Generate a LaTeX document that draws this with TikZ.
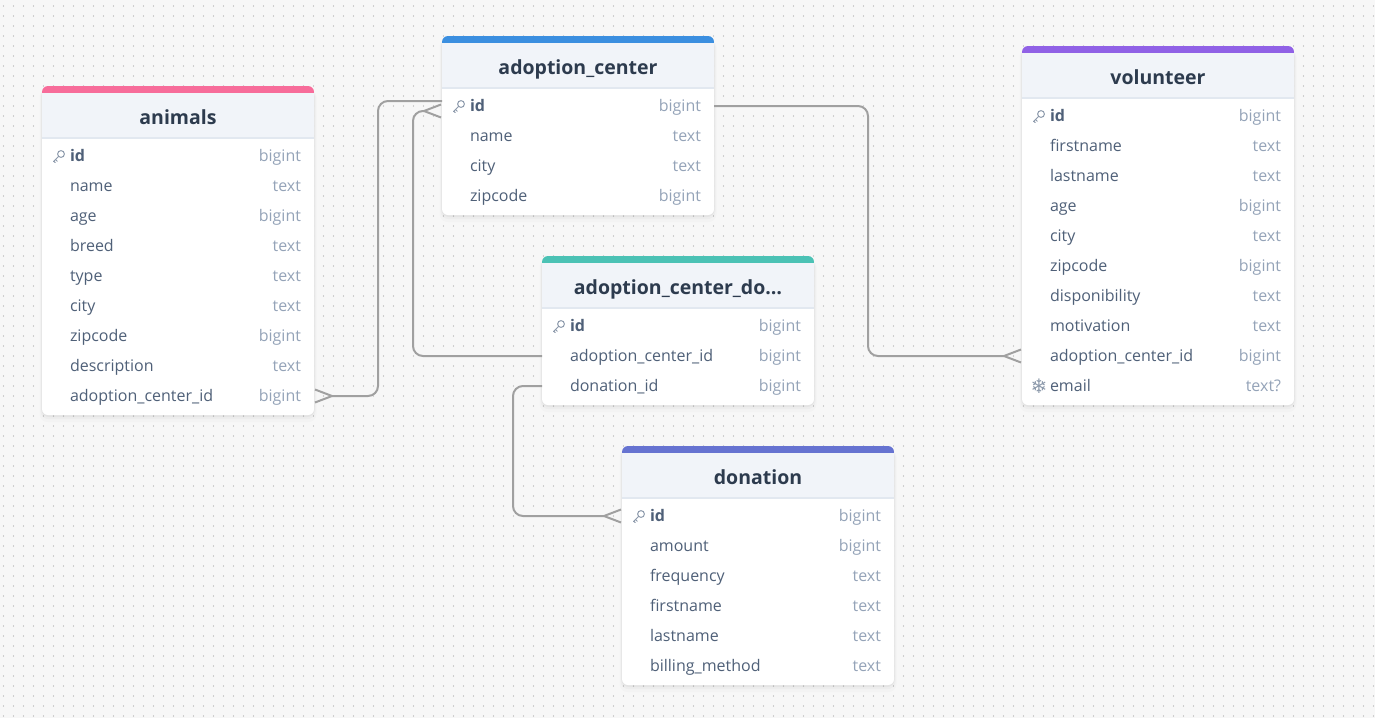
\documentclass[tikz,border=0pt]{standalone}
\usepackage{fontspec}
\setmainfont{Open Sans}
\newfontfamily\flakefont{DejaVu Sans}
\usetikzlibrary{arrows.meta,positioning,patterns.meta}
\definecolor{canvas}{HTML}{F7F7F7}
\definecolor{griddot}{HTML}{A8A8A8}
\definecolor{headfill}{HTML}{F1F4F9}
\definecolor{headline}{HTML}{E2E8F0}
\definecolor{titleink}{HTML}{2D3B4E}
\definecolor{fieldink}{HTML}{4F6078}
\definecolor{typeink}{HTML}{94A3B8}
\definecolor{iconink}{HTML}{8C99AB}
\definecolor{wire}{HTML}{A0A0A0}
\definecolor{pinkbar}{HTML}{F76C9A}
\definecolor{bluebar}{HTML}{3B8FE0}
\definecolor{tealbar}{HTML}{4BC2B5}
\definecolor{indigobar}{HTML}{6673D1}
\definecolor{purplebar}{HTML}{9061E6}
\tikzset{
  rel/.style={draw=wire,line width=2pt,rounded corners=10pt},
  crow/.tip={Straight Barb[reversed,length=17pt,width=13pt,line width=2pt]},
  many/.style={rel,-{crow}},
  cardbox/.style={rounded corners=6pt,fill=white,minimum width=272pt,inner sep=0pt,outer sep=0pt,anchor=north west},
  headbox/.style={minimum width=272pt,minimum height=45pt,inner sep=0pt,outer sep=0pt,text height=22pt,text depth=5pt,
                  font=\fontsize{19.5}{24}\selectfont\bfseries,text=titleink},
  rowbox/.style={text width=272pt,minimum height=30pt,inner sep=0pt,outer sep=0pt,text height=13.5pt,text depth=2.5pt,
                 font=\fontsize{16}{20}\selectfont,text=fieldink},
  keyicon/.pic={
    \draw[iconink,line width=1pt] (2,-2) circle (3.4pt);
    \draw[iconink,line width=1pt,line cap=round] (-.4,.4) -- (-5.5,5.5) (-3.5,3.5) -- (-1.8,5.2) (-5.2,5.2) -- (-3.8,6.6);
  },
  flakeicon/.pic={\node[text=iconink,font=\flakefont\fontsize{20}{20}\selectfont] {❄};},
  noicon/.pic={}
}
% one table: name, x, y, bar colour, title, rows
\newcommand{\dbtable}[6]{
  \begin{scope}[shift={(#2,#3)}]
    \foreach \spread/\alph in {5/.015,3/.025,1.5/.035}
      \fill[black,opacity=\alph,rounded corners=8pt]
        (-\spread/2,3) rectangle ++(272+\spread,#6-3+\spread*1.4);
    \node[cardbox,minimum height=#6] (#1) at (0,0) {};
    \begin{scope}
      \clip[rounded corners=6pt] (0,0) rectangle (272,#6);
      \fill[#4] (0,0) rectangle (272,7);
      \fill[headfill] (0,7) rectangle (272,52);
      \fill[headline] (0,51) rectangle (272,52.5);
    \end{scope}
  \end{scope}
  \node[headbox,below=7pt of #1.north] (#1-head) {#5};
  \coordinate (#1-0) at ([yshift=-3]#1-head.south);
}
\newcommand{\dbrow}[5]{
  \node[rowbox,below=0pt of #1-\the\numexpr#2-1\relax] (#1-#2)
    {\hspace*{28pt}#3\hfill\textcolor{typeink}{#4}\hspace*{13pt}};
  \pic at ([xshift=17pt]#1-#2.west) {#5};
}
\begin{document}
\begin{tikzpicture}[x=1pt,y=-1pt]
  \useasboundingbox (0,0) rectangle (1375,718);
  \fill[canvas] (0,0) rectangle (1375,718);
  \fill[pattern={Dots[distance=10pt,radius=.55pt,xshift=3.5pt,yshift=2pt]},pattern color=griddot]
    (0,0) rectangle (1375,718);

  \dbtable{animals}{42}{86}{pinkbar}{animals}{329}
  \foreach \field/\kind/\icon [count=\i] in {
    \textbf{id}/bigint/keyicon,name/text/noicon,age/bigint/noicon,breed/text/noicon,
    type/text/noicon,city/text/noicon,zipcode/bigint/noicon,description/text/noicon,
    adoption\_center\_id/bigint/noicon}
    {\dbrow{animals}{\i}{\field}{\kind}{\icon}}

  \dbtable{center}{442}{36}{bluebar}{adoption\_center}{179}
  \foreach \field/\kind/\icon [count=\i] in {
    \textbf{id}/bigint/keyicon,name/text/noicon,city/text/noicon,zipcode/bigint/noicon}
    {\dbrow{center}{\i}{\field}{\kind}{\icon}}

  \dbtable{centerdon}{542}{256}{tealbar}{adoption\_center\_do…}{149}
  \foreach \field/\kind/\icon [count=\i] in {
    \textbf{id}/bigint/keyicon,adoption\_center\_id/bigint/noicon,donation\_id/bigint/noicon}
    {\dbrow{centerdon}{\i}{\field}{\kind}{\icon}}

  \dbtable{donation}{622}{446}{indigobar}{donation}{239}
  \foreach \field/\kind/\icon [count=\i] in {
    \textbf{id}/bigint/keyicon,amount/bigint/noicon,frequency/text/noicon,firstname/text/noicon,
    lastname/text/noicon,billing\_method/text/noicon}
    {\dbrow{donation}{\i}{\field}{\kind}{\icon}}

  \dbtable{volunteer}{1022}{46}{purplebar}{volunteer}{359}
  \foreach \field/\kind/\icon [count=\i] in {
    \textbf{id}/bigint/keyicon,firstname/text/noicon,lastname/text/noicon,age/bigint/noicon,
    city/text/noicon,zipcode/bigint/noicon,disponibility/text/noicon,motivation/text/noicon,
    adoption\_center\_id/bigint/noicon,email/text?/flakeicon}
    {\dbrow{volunteer}{\i}{\field}{\kind}{\icon}}

  \draw[rel,{crow}-] (animals-9.east) -| (378,300) |- ([yshift=5pt]center-1.west);
  \draw[many] (centerdon-2.west) -| (413,200) |- ([yshift=-5pt]center-1.west);
  \draw[many] (center-1.east) -| (868,200) |- (volunteer-9.west);
  \draw[many] (centerdon-3.west) -| (513,450) |- (donation-1.west);
\end{tikzpicture}
\end{document}
